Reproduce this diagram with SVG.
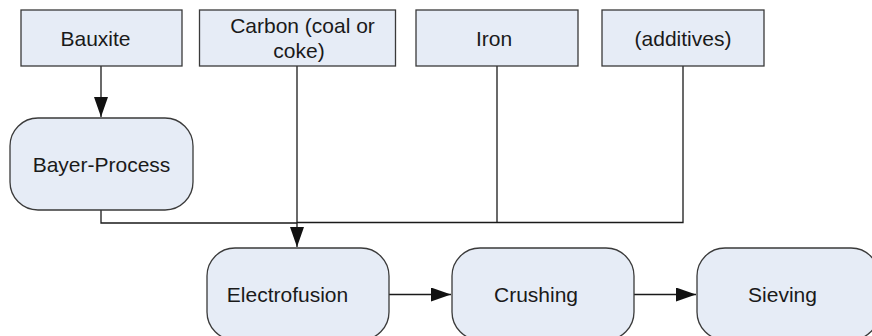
<svg xmlns="http://www.w3.org/2000/svg" width="872" height="336" viewBox="0 0 872 336">
<style>
.box{fill:#e6ecf6;stroke:#3a3a3a;stroke-width:1.3}
.t{font-family:"Liberation Sans",Arial,sans-serif;font-size:21px;fill:#1a1a1a;text-anchor:middle}
.c{fill:none;stroke:#1a1a1a;stroke-width:1.3}
</style>
<defs>
<marker id="ah" markerUnits="userSpaceOnUse" markerWidth="20" markerHeight="14" refX="20" refY="7" orient="auto">
<path d="M0,0 L20,7 L0,14 Z" fill="#111"/>
</marker>
</defs>
<rect width="872" height="336" fill="#fff"/>
<g id="connectors">
<path class="c" d="M101,66 V117" marker-end="url(#ah)"/>
<path class="c" d="M101,210 V223 H297"/>
<path class="c" d="M297,66 V247" marker-end="url(#ah)"/>
<path class="c" d="M297,222.5 H683 V66"/>
<path class="c" d="M497,66 V222.5"/>
<path class="c" d="M389,294.5 H451" marker-end="url(#ah)"/>
<path class="c" d="M634,294.5 H696" marker-end="url(#ah)"/>
</g>
<g id="bauxite"><rect class="box" x="21" y="10" width="161" height="56"/><text class="t" x="95.5" y="45.5">Bauxite</text></g>
<g id="carbon"><rect class="box" x="199.5" y="10" width="196" height="56"/><text class="t" x="302.5" y="33">Carbon (coal or</text><text class="t" x="299" y="58">coke)</text></g>
<g id="iron"><rect class="box" x="416" y="10" width="162" height="56"/><text class="t" x="494" y="45.5">Iron</text></g>
<g id="additives"><rect class="box" x="602" y="10" width="162" height="56"/><text class="t" x="683" y="45.5">(additives)</text></g>
<g id="bayer"><rect class="box" x="10" y="118" width="183" height="92" rx="28" ry="28"/><text class="t" x="101.5" y="172">Bayer-Process</text></g>
<g id="electrofusion"><rect class="box" x="207" y="248" width="182" height="92" rx="28" ry="28"/><text class="t" x="287.5" y="302">Electrofusion</text></g>
<g id="crushing"><rect class="box" x="452" y="248" width="182" height="92" rx="28" ry="28"/><text class="t" x="536" y="302">Crushing</text></g>
<g id="sieving"><rect class="box" x="697" y="248" width="182" height="92" rx="28" ry="28"/><text class="t" x="782.5" y="302">Sieving</text></g>
</svg>
